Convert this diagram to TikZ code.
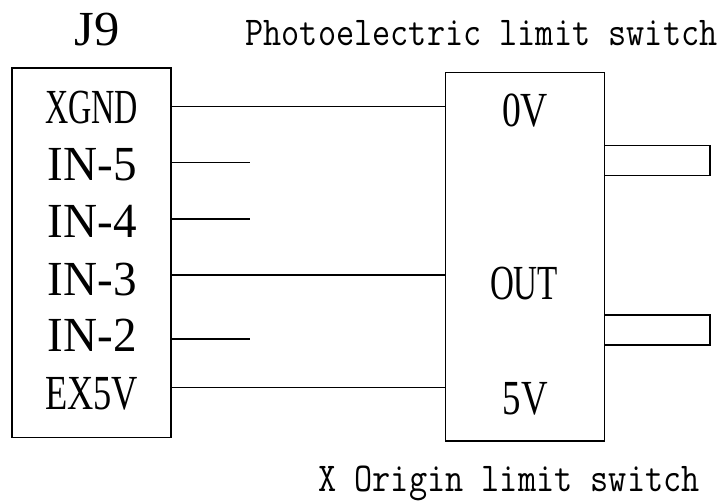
\documentclass[tikz,border=0pt]{standalone}
\usepackage{fontspec}
\usepackage{graphicx}
\setmainfont{Liberation Serif}
\newfontfamily\monofnt[FakeStretch=0.86]{Latin Modern Mono}
\newcommand{\fitw}[2]{\resizebox{#1pt}{\height}{#2}}
\begin{document}
\begin{tikzpicture}[x=1pt,y=-1pt,
  wire/.style={line width=1.3pt},
  box/.style={draw,line width=1.3pt,rectangle,inner sep=0pt,outer sep=0pt},
  lab/.style={anchor=base,inner sep=0pt,font=\fontsize{49}{49}\selectfont},
  mono/.style={anchor=base,inner sep=0pt,font=\monofnt\fontsize{41}{41}\selectfont}]
\useasboundingbox (0,0) rectangle (727,501);
% boxes
\node[box,minimum width=159pt,minimum height=369.5pt] (lbox) at (91.5,252.8) {};
\node[box,minimum width=158.6pt,minimum height=368.7pt] (rbox) at (525,256.7) {};
\node[box,minimum width=105.7pt,minimum height=30pt] (tab1) at (657.2,160.7) {};
\node[box,minimum width=105.7pt,minimum height=30pt] (tab2) at (657.2,330) {};
% titles
\node[lab] (j9) at (97,45) {\fitw{45}{J9}};
\node[mono] (t1) at (481.5,45.5) {Photoelectric limit switch};
\node[mono] (t2) at (509,491.5) {X Origin limit switch};
% left labels
\node[lab] (xgnd) at (91.7,123) {\fitw{93}{XGND}};
\node[lab] (in5) at (92.5,180) {\fitw{89}{IN-5}};
\node[lab] (in4) at (92.5,237.5) {\fitw{89}{IN-4}};
\node[lab] (in3) at (92.5,295) {\fitw{89}{IN-3}};
\node[lab] (in2) at (92.5,351.7) {\fitw{89}{IN-2}};
\node[lab] (ex5v) at (91.7,409) {\fitw{93}{EX5V}};
% right labels
\node[lab] (ov) at (525,126.7) {\fitw{46}{0V}};
\node[lab] (out) at (524,299) {\fitw{68}{OUT}};
\node[lab] (fv) at (525.3,414) {\fitw{45}{5V}};
% wire coordinates
\coordinate (a1) at (171,106.3);
\coordinate (a2) at (171,162.7);
\coordinate (a3) at (171,219);
\coordinate (a4) at (171,275);
\coordinate (a5) at (171,339);
\coordinate (a6) at (171,387.7);
\coordinate (e2) at (250,162.7);
\coordinate (e3) at (250,219);
\coordinate (e5) at (250,339);
\draw[wire] (a1) -- (a1 -| rbox.west);
\draw[wire] (a2) -- (e2);
\draw[wire] (a3) -- (e3);
\draw[wire] (a4) -- (a4 -| rbox.west);
\draw[wire] (a5) -- (e5);
\draw[wire] (a6) -- (a6 -| rbox.west);
\end{tikzpicture}
\end{document}
